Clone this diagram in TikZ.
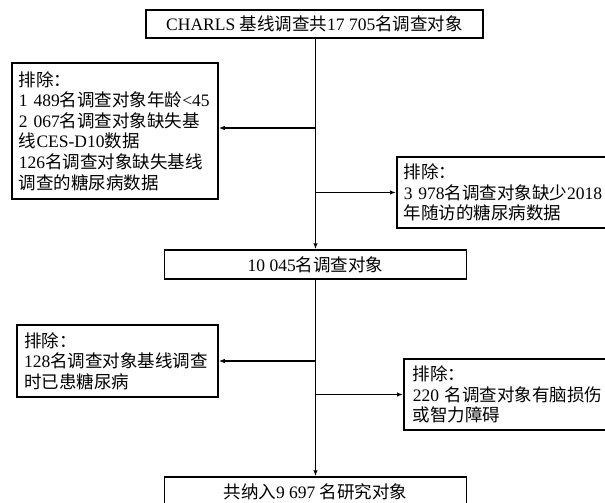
\documentclass[tikz,border=0pt]{standalone}
\usepackage{fontspec}
\setmainfont{Liberation Serif}
\newfontfamily\cjkfont{Noto Sans CJK SC}
\newcommand\zh[1]{{\cjkfont #1}}
\usetikzlibrary{arrows.meta}
\begin{document}
\begin{tikzpicture}[x=1pt,y=-1pt,
  every node/.style={font=\fontsize{17.5}{20.6}\selectfont},
  box/.style={draw,line width=1.5pt,inner ysep=0pt,inner xsep=0pt,align=center},
  exbox/.style={draw,line width=1.5pt,inner ysep=0pt,inner xsep=7pt,align=left},
  arr/.style={line width=1.5pt,-{Latex[length=6pt,width=4.5pt]}}]
\useasboundingbox (0,0) rectangle (605,503);
\clip (0,0) rectangle (605,503);
\node[box,minimum width=337pt,minimum height=28pt] (top) at (314.5,24) {CHARLS \zh{基线调查共}17 705\zh{名调查对象}};
\node[box,minimum width=302pt,minimum height=29pt] (n2) at (315.5,264.5) {10 045\zh{名调查对象}};
\node[box,minimum width=302pt,minimum height=29pt] (fin) at (315.5,491.5) {\zh{共纳入}9 697 \zh{名研究对象}};
\node[exbox,text width=192pt,minimum height=136pt] (ex1) at (115,131) {\zh{排除：}\\1 489\zh{名调查对象年龄}<45\\2 067\zh{名调查对象缺失基}\\\zh{线}CES-D10\zh{数据}\\126\zh{名调查对象缺失基线}\\\zh{调查的糖尿病数据}};
\node[exbox,text width=216pt,minimum height=71pt,anchor=west] (ex2) at (396,192.5) {\zh{排除：}\\3 978\zh{名调查对象缺少}2018\\\zh{年随访的糖尿病数据}};
\node[exbox,text width=187pt,minimum height=72pt] (ex3) at (117.5,361) {\zh{排除：}\\128\zh{名调查对象基线调查}\\\zh{时已患糖尿病}};
\node[exbox,text width=210pt,minimum height=71pt,anchor=west,inner xsep=9pt] (ex4) at (403,394.5) {\zh{排除：}\\220 \zh{名调查对象有脑损伤}\\\zh{或智力障碍}};
\coordinate (b1) at (315.5,128);
\coordinate (b2) at (315.5,192.5);
\coordinate (b3) at (315.5,361);
\coordinate (b4) at (315.5,394.5);
\draw[arr] (top.south -| n2.north) -- (n2.north);
\draw[arr] (n2.south) -- (fin.north);
\draw[arr] (b1) -- (b1 -| ex1.east);
\draw[arr] (b2) -- (ex2.west);
\draw[arr] (b3) -- (b3 -| ex3.east);
\draw[arr] (b4) -- (ex4.west);
\end{tikzpicture}
\end{document}
